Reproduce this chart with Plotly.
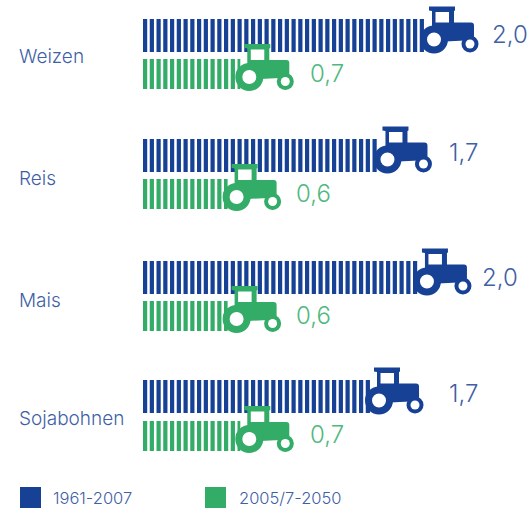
import plotly.graph_objects as go

# Tractor bars: growth rates per crop, two periods
crops = ['Weizen', 'Reis', 'Mais', 'Sojabohnen']
series_names = ['1961-2007', '2005/7-2050']
labels_old = ['2,0', '1,7', '2,0', '1,7']
labels_new = ['0,7', '0,6', '0,6', '0,7']
# drawn bar lengths
values_old = [2.0, 1.67, 1.95, 1.61]
values_new = [0.69, 0.60, 0.60, 0.69]

BLUE = '#164194'
GREEN = '#32ac66'
BLUE_TEXT = '#3f5fa6'
GREEN_TEXT = '#4fb97d'
FONT = 'Inter'

W, H = 528, 510
PX_PER_UNIT = 141
ZERO_X = 143

# layout: row centres in pixels, label offsets from the bar end
ROW_OLD = [35.5, 155.5, 277.5, 396.5]
ROW_NEW = [74, 194, 316, 436]
ROW_TEXT = [56, 178, 300, 418]
SHIFT_OLD = [65, 69, 62, 77]
SHIFT_NEW = [68, 66, 66, 68]
LIFT_OLD = [1.5, 3, 0.5, 3.5]
LIFT_NEW = [1, 1, 1, 2]


def pixel_shape(x, y, color, **kw):
    return dict(xref='x', yref='y', xsizemode='pixel', ysizemode='pixel',
                xanchor=x, yanchor=y, fillcolor=color,
                line=dict(width=0), layer='above', **kw)


def circle(x, y, cx, cy, r, color):
    return pixel_shape(x, y, color, type='circle',
                       x0=cx - r, x1=cx + r, y0=cy - r, y1=cy + r)


def tractor(x, y, color, lift=0):
    # pixel offsets from the bar end, y pointing up
    d = lift
    body = (f'M 4,{29+d} L 30,{29+d} L 30,{25+d} L 29,{24.5+d} L 29,{13+d} '
            f'L 46,{13+d} Q 49,{13+d} 49,{10+d} L 49,{-1+d} L 40,{-5+d} '
            f'L 20,{-6+d} L 7,{-6+d} L 7,{24.5+d} L 4,{25+d} Z')
    return [
        pixel_shape(x, y, color, type='path', path=body),
        pixel_shape(x, y, 'white', type='rect', x0=10.5, x1=24, y0=13 + d, y1=23.5 + d),
        circle(x, y, 9, -4 + d, 14, color),
        circle(x, y, 9, -4 + d, 7, 'white'),
        circle(x, y, 45, -8.5 + d, 8.5, color),
        circle(x, y, 45, -8.5 + d, 4.5, 'white'),
    ]


def striped(values, rows, color, name, height):
    # one dashed thick line per bar, so the stripes start right at zero
    traces = []
    for val, row in zip(values, rows):
        traces.append(go.Scatter(
            x=[0, val], y=[row, row], name=name, mode='lines',
            line=dict(color=color, width=height, dash='4.2px,2.55px'),
            hoverinfo='skip',
        ))
    return traces


fig = go.Figure()
fig.add_traces(striped(values_old, ROW_OLD, BLUE, series_names[0], 33))
fig.add_traces(striped(values_new, ROW_NEW, GREEN, series_names[1], 30))

shapes = []
annotations = []
for i, crop in enumerate(crops):
    shapes += tractor(values_old[i], ROW_OLD[i], BLUE)
    shapes += tractor(values_new[i], ROW_NEW[i], GREEN, lift=1)
    annotations.append(dict(
        x=16.5 / W, y=ROW_TEXT[i], xref='x domain', yref='y', text=crop,
        showarrow=False, xanchor='left', font=dict(family=FONT, size=19, color=BLUE_TEXT, weight=300)))
    annotations.append(dict(
        x=values_old[i], y=ROW_OLD[i], xref='x', yref='y', text=labels_old[i],
        xshift=SHIFT_OLD[i], yshift=LIFT_OLD[i],
        showarrow=False, xanchor='left', font=dict(family=FONT, size=24, color=BLUE_TEXT, weight=300)))
    annotations.append(dict(
        x=values_new[i], y=ROW_NEW[i], xref='x', yref='y', text=labels_new[i],
        xshift=SHIFT_NEW[i], yshift=LIFT_NEW[i],
        showarrow=False, xanchor='left', font=dict(family=FONT, size=24, color=GREEN_TEXT, weight=300)))

# legend swatches, placed by hand like the original
for name, color, px0, text_x in zip(series_names, [BLUE, GREEN], [20, 205], [50.5, 236.5]):
    shapes.append(dict(type='rect', xref='x domain', yref='y', x0=px0 / W, x1=(px0 + 21) / W,
                       y0=487, y1=508, fillcolor=color, line=dict(width=0)))
    annotations.append(dict(
        x=text_x / W, y=498, xref='x domain', yref='y', text=name, showarrow=False, xanchor='left',
        font=dict(family=FONT, size=16.5, color=BLUE_TEXT, weight=300)))

fig.update_layout(
    width=W, height=H,
    margin=dict(l=0, r=0, t=0, b=0),
    plot_bgcolor='white', paper_bgcolor='white',
    showlegend=False,
    xaxis=dict(range=[-ZERO_X / PX_PER_UNIT, (W - ZERO_X) / PX_PER_UNIT], visible=False),
    yaxis=dict(range=[H, 0], visible=False),
    shapes=shapes, annotations=annotations,
)

fig.write_html('out.html', config=dict(displayModeBar=False),
               post_script="document.body.style.margin='0';")
